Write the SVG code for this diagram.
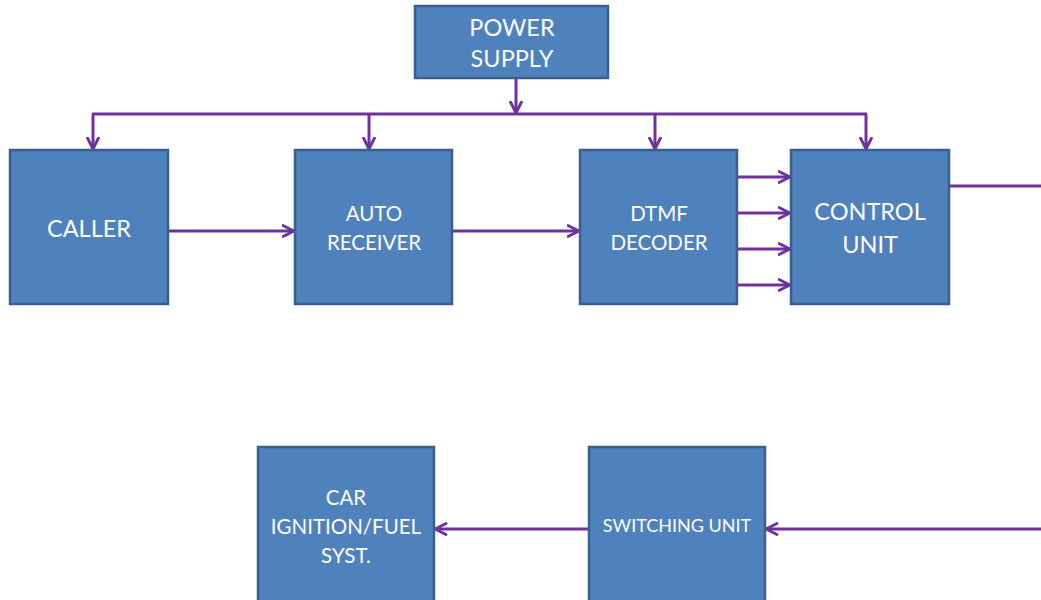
<svg xmlns="http://www.w3.org/2000/svg" width="1041" height="600" viewBox="0 0 1041 600">
  <defs>
    <marker id="arrow" viewBox="0 0 14 14" refX="12.5" refY="7" markerWidth="14" markerHeight="14" markerUnits="userSpaceOnUse" orient="auto">
      <path d="M1.5,1.5 L12.5,7 L1.5,12.5" fill="none" stroke="#7030A0" stroke-width="2.8" stroke-linecap="round" stroke-linejoin="round"/>
    </marker>
    <style>
      .box { fill: #4F81BD; stroke: #3A5F8B; stroke-width: 2.5; }
      .lbl { fill: #FFFFFF; font-family: Lato, "Liberation Sans", sans-serif; text-anchor: middle; }
      .big { font-size: 23.5px; }
      .mid { font-size: 20.5px; }
      .sml { font-size: 18px; }
      .wire { fill: none; stroke: #7030A0; stroke-width: 3; }
    </style>
  </defs>

  <!-- connectors -->
  <g id="connectors">
    <line class="wire" x1="516" y1="79" x2="516" y2="113" marker-end="url(#arrow)"/>
    <line class="wire" x1="92" y1="114" x2="867" y2="114"/>
    <line class="wire" x1="93" y1="114" x2="93" y2="149" marker-end="url(#arrow)"/>
    <line class="wire" x1="369" y1="114" x2="369" y2="149" marker-end="url(#arrow)"/>
    <line class="wire" x1="655" y1="114" x2="655" y2="149" marker-end="url(#arrow)"/>
    <line class="wire" x1="866" y1="114" x2="866" y2="149" marker-end="url(#arrow)"/>
    <line class="wire" x1="168" y1="231" x2="294" y2="231" marker-end="url(#arrow)"/>
    <line class="wire" x1="452" y1="231" x2="579" y2="231" marker-end="url(#arrow)"/>
    <line class="wire" x1="737" y1="177" x2="790" y2="177" marker-end="url(#arrow)"/>
    <line class="wire" x1="737" y1="213" x2="790" y2="213" marker-end="url(#arrow)"/>
    <line class="wire" x1="737" y1="249" x2="790" y2="249" marker-end="url(#arrow)"/>
    <line class="wire" x1="737" y1="285" x2="790" y2="285" marker-end="url(#arrow)"/>
    <line class="wire" x1="949" y1="186" x2="1041" y2="186"/>
    <line class="wire" x1="1041" y1="529" x2="766" y2="529" marker-end="url(#arrow)"/>
    <line class="wire" x1="589" y1="529" x2="435" y2="529" marker-end="url(#arrow)"/>
  </g>

  <g id="power-supply">
    <rect class="box" x="415" y="6" width="193" height="72"/>
    <text class="lbl big" x="512" y="36">POWER</text>
    <text class="lbl big" x="512" y="67">SUPPLY</text>
  </g>

  <g id="caller">
    <rect class="box" x="10" y="150" width="158" height="154"/>
    <text class="lbl big" x="89" y="237">CALLER</text>
  </g>

  <g id="auto-receiver">
    <rect class="box" x="295" y="150" width="157" height="154"/>
    <text class="lbl mid" x="374" y="221">AUTO</text>
    <text class="lbl mid" x="374" y="250">RECEIVER</text>
  </g>

  <g id="dtmf-decoder">
    <rect class="box" x="580" y="150" width="157" height="154"/>
    <text class="lbl mid" x="659" y="221">DTMF</text>
    <text class="lbl mid" x="659" y="250">DECODER</text>
  </g>

  <g id="control-unit">
    <rect class="box" x="791" y="150" width="158" height="154"/>
    <text class="lbl big" x="870" y="220">CONTROL</text>
    <text class="lbl big" x="870" y="253">UNIT</text>
  </g>

  <g id="car-ignition">
    <rect class="box" x="258" y="447" width="176" height="160"/>
    <text class="lbl mid" x="346" y="505">CAR</text>
    <text class="lbl mid" x="346" y="534">IGNITION/FUEL</text>
    <text class="lbl mid" x="346" y="563">SYST.</text>
  </g>

  <g id="switching-unit">
    <rect class="box" x="589" y="447" width="176" height="160"/>
    <text class="lbl sml" x="677" y="532">SWITCHING UNIT</text>
  </g>
</svg>
